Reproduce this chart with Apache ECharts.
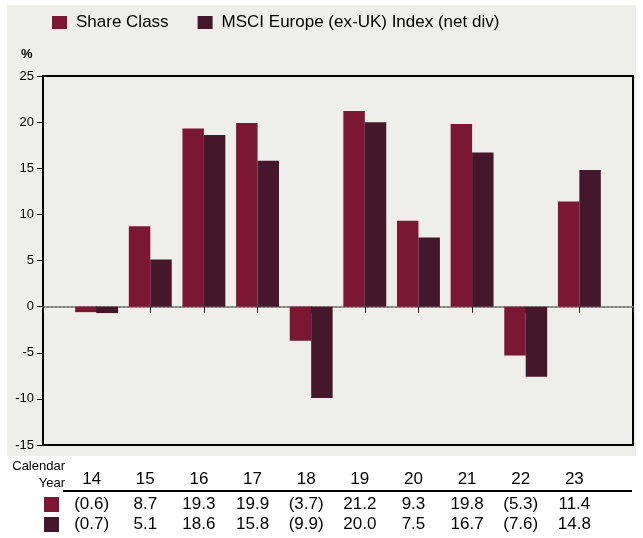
<!DOCTYPE html>
<html>
<head>
<meta charset="utf-8">
<script src="https://cdn.jsdelivr.net/npm/echarts@6/dist/echarts.min.js"></script>
<style>
	html, body { margin: 0; padding: 0; background: #fff; }
	#chart { width: 643px; height: 538px; }
</style>
</head>
<body>
<div id="chart"></div>
<script>
"use strict";

/*****Data*****/
var years = ['14', '15', '16', '17', '18', '19', '20', '21', '22', '23'];
var shareClass = [-0.6, 8.7, 19.3, 19.9, -3.7, 21.2, 9.3, 19.8, -5.3, 11.4];
var msciIndex = [-0.7, 5.1, 18.6, 15.8, -9.9, 20.0, 7.5, 16.7, -7.6, 14.8];
var yTicks = { min: -15, max: 25, step: 5 };

var colShare = '#7b1733';
var colIndex = '#45172b';
var font = "'Liberation Sans', Arial, sans-serif";

// padded so bars sit on ticks with half a slot spare at each end
var cats = [''].concat(years, ['']);
var pad = function (arr) { return ['-'].concat(arr, ['-']); };
var fmt = function (v) {
	return v < 0 ? '(' + Math.abs(v).toFixed(1) + ')' : v.toFixed(1);
};
var rowAxis = function (vals, offset) {
	return {
		type: 'category', gridIndex: 1, data: cats, boundaryGap: false,
		position: 'bottom', offset: offset,
		axisLine: { show: false }, axisTick: { show: false },
		axisLabel: {
			interval: 0, margin: 4, fontSize: 17, color: '#000', fontFamily: font,
			formatter: function (v, i) { return (i > 0 && i <= vals.length) ? fmt(vals[i - 1]) : ''; }
		}
	};
};

var chart = echarts.init(document.getElementById('chart'));
var option = {
	animation: false,
	backgroundColor: '#fff',
	textStyle: { fontFamily: font },
	legend: {
		left: 52, top: 14, padding: 0,
		itemWidth: 15, itemHeight: 13, itemGap: 29,
		icon: 'rect',
		textStyle: { fontSize: 17, color: '#000', fontFamily: font, padding: [0, 0, 0, 4] },
		data: ['Share Class', 'MSCI Europe (ex-UK) Index (net div)']
	},
	graphic: [
		{ type: 'rect', z: -10, silent: true, shape: { x: 7, y: 5, width: 629, height: 451 }, style: { fill: '#eeeeea' } },
		{ type: 'text', left: 21, top: 48, style: { text: '%', font: 'bold 13px ' + font, fill: '#000' } },
		{ type: 'text', right: 578, top: 460, style: { text: 'Calendar', font: '13px ' + font, fill: '#000', textAlign: 'right' } },
		{ type: 'text', right: 578, top: 477, style: { text: 'Year', font: '13px ' + font, fill: '#000', textAlign: 'right' } },
		{ type: 'line', shape: { x1: 63, y1: 491, x2: 632, y2: 491 }, style: { stroke: '#000', lineWidth: 2 } },
		{ type: 'rect', shape: { x: 44, y: 497, width: 15, height: 15 }, style: { fill: colShare } },
		{ type: 'rect', shape: { x: 44, y: 517, width: 15, height: 15 }, style: { fill: colIndex } }
	],
	grid: [
		{ left: 43, right: 10, top: 76, bottom: 93, show: true, borderColor: '#000', borderWidth: 2, backgroundColor: 'transparent' },
		{ left: 38, right: 15, top: 491, height: 1 }
	],
	xAxis: [
		{
			type: 'category', gridIndex: 0, data: cats, boundaryGap: false,
			axisLine: { onZero: true, lineStyle: { color: '#808080', width: 2, type: [2, 2] } },
			axisTick: { show: true, length: 6, lineStyle: { color: '#222', width: 1 } },
			axisLabel: { show: false },
			splitLine: { show: false }
		},
		{
			type: 'category', gridIndex: 1, data: cats, boundaryGap: false,
			position: 'top',
			axisLine: { show: false }, axisTick: { show: false },
			axisLabel: { interval: 0, margin: 3, fontSize: 17, color: '#000', fontFamily: font }
		},
		rowAxis(shareClass, 0),
		rowAxis(msciIndex, 20)
	],
	yAxis: [
		{
			type: 'value', gridIndex: 0,
			min: yTicks.min, max: yTicks.max, interval: yTicks.step,
			axisLine: { show: true, lineStyle: { color: '#000', width: 2 } },
			axisTick: { show: true, length: 6, lineStyle: { color: '#000', width: 1 } },
			axisLabel: { fontSize: 13, color: '#000', margin: 9, fontFamily: font },
			splitLine: { show: false }
		},
		{ type: 'value', gridIndex: 1, show: false }
	],
	series: [
		{
			name: 'Share Class', type: 'bar', xAxisIndex: 0, yAxisIndex: 0,
			data: pad(shareClass), itemStyle: { color: colShare },
			barGap: '0%', barCategoryGap: '20%'
		},
		{
			name: 'MSCI Europe (ex-UK) Index (net div)', type: 'bar', xAxisIndex: 0, yAxisIndex: 0,
			data: pad(msciIndex), itemStyle: { color: colIndex },
			barGap: '0%', barCategoryGap: '20%'
		}
	]
};
chart.setOption(option);
</script>
</body>
</html>
